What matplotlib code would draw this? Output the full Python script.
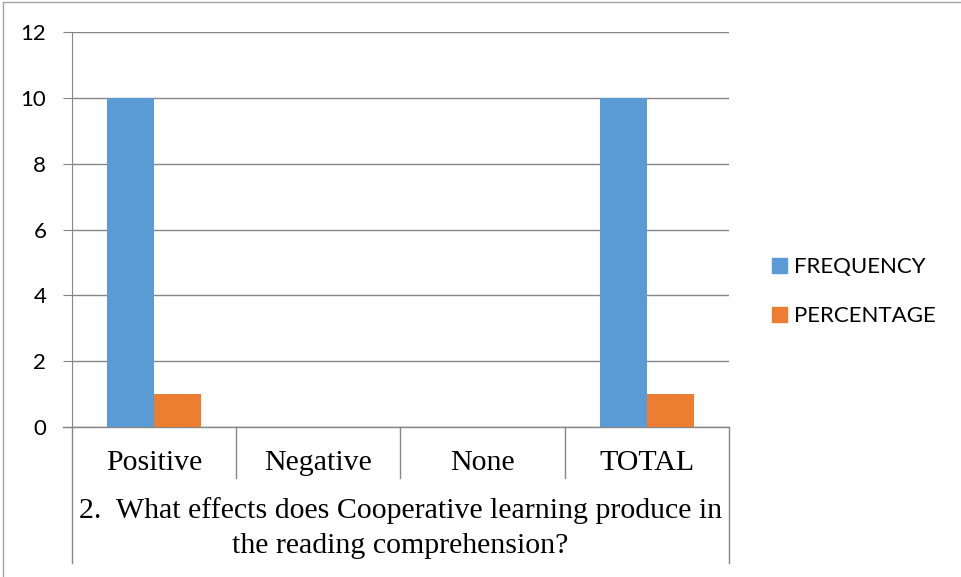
import matplotlib.pyplot as plt
from matplotlib.lines import Line2D
from matplotlib.patches import Patch

# Data
categories = ["Positive", "Negative", "None", "TOTAL"]
frequency = [10, 0, 0, 10]
percentage = [1, 0, 0, 1]
question = "2.  What effects does Cooperative learning produce in\nthe reading comprehension?"

blue = "#5B9BD5"
orange = "#ED7D31"
grid = "#868686"

W, H = 962, 577
fig = plt.figure(figsize=(W / 100, H / 100), dpi=100)
ax = fig.add_axes([72 / W, 1 - 427 / H, (729 - 72) / W, (427 - 32) / H])

x = list(range(len(categories)))
bw = 0.287
ax.bar([i - bw / 2 for i in x], frequency, bw, color=blue, zorder=3)
ax.bar([i + bw / 2 for i in x], percentage, bw, color=orange, zorder=3)

ax.set_xlim(-0.5, len(categories) - 0.5)
ax.set_ylim(0, 12)
ax.set_yticks(range(0, 13, 2))
ax.yaxis.grid(True, color=grid, linewidth=1)
ax.set_axisbelow(True)
for s in ["top", "right", "bottom"]:
    ax.spines[s].set_visible(False)
ax.spines["left"].set_color(grid)
ax.tick_params(axis="y", length=6.5, color=grid, pad=12, labelsize=16)
ax.tick_params(axis="x", length=0, labelbottom=False)
for lab in ax.get_yticklabels():
    lab.set_family("Lato")

# category table below the axis
tr = ax.get_xaxis_transform()
y_sep = -51 / 395
y_bot = -136 / 395
ax.plot([-0.5, -0.5], [0, y_bot], color=grid, lw=1, transform=tr, clip_on=False)
ax.plot([3.5, 3.5], [0, y_bot], color=grid, lw=1, transform=tr, clip_on=False)
ax.plot([-0.5 - 9 / 164, 3.5], [0, 0], color=grid, lw=1, transform=tr, clip_on=False)
for i in range(len(categories) - 1):
    ax.plot([i + 0.5, i + 0.5], [0, y_sep], color=grid, lw=1, transform=tr, clip_on=False)
for i, c in enumerate(categories):
    ax.text(i, -36 / 395, c, transform=tr, ha="center", va="center",
            fontsize=21.5, family="Liberation Serif")
ax.text(1.5, -101 / 395, question, transform=tr, ha="center", va="center",
        fontsize=21.5, family="Liberation Serif", linespacing=1.43)

# legend
handles = [Patch(color=blue, label="FREQUENCY"), Patch(color=orange, label="PERCENTAGE")]
fig.legend(handles=handles, loc="center left", bbox_to_anchor=(752 / W, 1 - 291.5 / H),
           frameon=False, prop={"family": "Lato", "size": 16},
           handlelength=0.68, handleheight=0.68, handletextpad=0.32, labelspacing=1.3)

# outer border (top and left)
fig.add_artist(Line2D([3 / W, 3 / W], [0, 1 - 2 / H], color="#a6a6a6", lw=1))
fig.add_artist(Line2D([3 / W, 1], [1 - 2 / H, 1 - 2 / H], color="#a6a6a6", lw=1))

fig.savefig("out.png", dpi=100)
